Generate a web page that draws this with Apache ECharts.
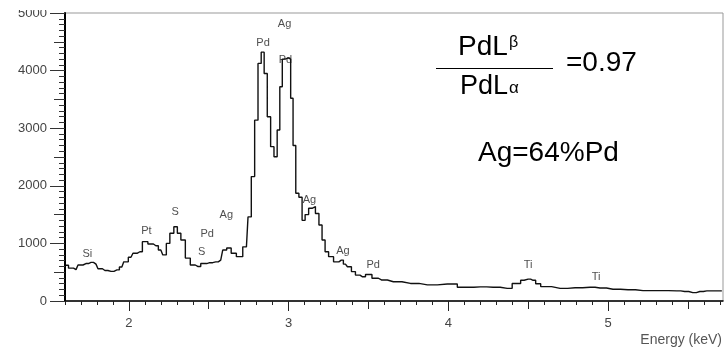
<!DOCTYPE html>
<html>
<head>
<meta charset="utf-8">
<script src="https://cdn.jsdelivr.net/npm/echarts@6/dist/echarts.min.js"></script>
<style>
html, body { margin: 0; padding: 0; background: #fff; }
#chart { width: 724px; height: 351px; }
</style>
</head>
<body>
<div id="chart"></div>
<script>
// spectrum (keV, counts)
const energy = [
  1.606, 1.638, 1.669, 1.694, 1.731, 1.763, 1.794, 1.819, 1.85, 1.888,
  1.925, 1.956, 1.98, 2.013, 2.038, 2.069, 2.1, 2.138, 2.169, 2.2,
  2.225, 2.244, 2.269, 2.294, 2.313, 2.338, 2.369, 2.4, 2.431, 2.469,
  2.506, 2.544, 2.575, 2.6, 2.625, 2.656, 2.69, 2.736, 2.756, 2.777,
  2.798, 2.819, 2.838, 2.856, 2.877, 2.898, 2.919, 2.938, 2.952, 2.969,
  2.988, 3.006, 3.02, 3.036, 3.054, 3.075, 3.094, 3.113, 3.138, 3.156,
  3.18, 3.2, 3.219, 3.238, 3.263, 3.3, 3.33, 3.356, 3.381, 3.406,
  3.431, 3.463, 3.5, 3.544, 3.581, 3.656, 3.763, 3.869, 3.994, 4.119,
  4.2, 4.281, 4.369, 4.431, 4.475, 4.5, 4.531, 4.563, 4.594, 4.7,
  4.794, 4.888, 4.95, 5.031, 5.125, 5.219, 5.325, 5.431, 5.48, 5.531,
  5.575, 5.619, 5.713
];
const counts = [
  620, 570, 545, 625, 650, 670, 640, 560, 530, 515,
  540, 590, 680, 760, 830, 855, 1030, 990, 960, 885,
  800, 1000, 1175, 1290, 1175, 1060, 745, 625, 600, 650,
  665, 680, 710, 885, 920, 830, 770, 940, 1460, 2160,
  3140, 4125, 4320, 3950, 3200, 2680, 2505, 2970, 3720, 4200,
  4220, 4200, 3520, 2700, 1870, 1800, 1400, 1500, 1610, 1640,
  1520, 1320, 1060, 855, 770, 680, 710, 640, 595, 510,
  450, 420, 460, 395, 365, 335, 305, 280, 295, 238,
  245, 238, 220, 305, 360, 380, 360, 300, 250, 220,
  230, 238, 225, 203, 195, 180, 180, 175, 165, 145,
  165, 175, 175
];

// peak annotations
const peakNames  = ['Si', 'Pt', 'S', 'Pd', 'S', 'Ag', 'Pd', 'Ag', 'Pd', 'Ag', 'Ag', 'Pd', 'Ti', 'Ti'];
const peakEnergy = [1.74, 2.11, 2.29, 2.49, 2.456, 2.61, 2.84, 2.975, 2.98, 3.13, 3.34, 3.53, 4.5, 4.925];
const peakHeight = [816, 1215, 1545, 1163, 850, 1493, 4480, 4810, 4184, 1753, 868, 625, 625, 417];

// axes
const X_MIN = 1.6, X_MAX = 5.72;
const xLabels = [2, 3, 4, 5];
const xMinorTicks = [];
for (let k = 16; k <= 57; k++) xMinorTicks.push(k / 10);
const xHalfTicks = [2, 2.5, 3, 3.5, 4, 4.5, 5, 5.5];

const font = 'Liberation Sans, Arial, sans-serif';

function xAxisLayer(ticks, len, labels) {
  return {
    type: 'value', min: X_MIN, max: X_MAX, position: 'bottom',
    axisLine: { show: !!labels, onZero: false, lineStyle: { color: '#000', width: 1.5 } },
    axisTick: { show: true, customValues: ticks, length: len, lineStyle: { color: '#222' } },
    axisLabel: labels ? {
      customValues: labels, margin: 16, color: '#444', fontSize: 13, fontFamily: font
    } : { show: false },
    splitLine: { show: false }
  };
}

function yAxisLayer(interval, len, labels) {
  return {
    type: 'value', min: 0, max: 5000, interval: interval, position: 'left',
    axisLine: { show: labels, lineStyle: { color: '#000', width: 2 } },
    axisTick: { show: true, length: len, lineStyle: { color: '#333' } },
    axisLabel: labels ? {
      margin: 18, color: '#444', fontSize: 13, fontFamily: font, formatter: v => String(v)
    } : { show: false },
    splitLine: { show: false }
  };
}

function txt(x, y, s, size, extra) {
  return {
    type: 'text',
    style: Object.assign({ x: x, y: y, text: s, fontSize: size, fontFamily: font, fill: '#000', verticalAlign: 'middle' }, extra || {})
  };
}

const chart = echarts.init(document.getElementById('chart'));
chart.setOption({
  animation: false,
  grid: { left: 65, right: 1, top: 13, bottom: 50, show: true, borderColor: '#999', borderWidth: 1 },
  xAxis: [
    xAxisLayer(xLabels, 10, xLabels),
    xAxisLayer(xHalfTicks, 8, null),
    xAxisLayer(xMinorTicks, 4, null)
  ],
  yAxis: [
    yAxisLayer(1000, 15, true),
    yAxisLayer(500, 11, false),
    yAxisLayer(100, 6, false)
  ],
  series: [
    {
      type: 'line', step: 'middle', showSymbol: false,
      data: energy.map((e, i) => [e, counts[i]]),
      lineStyle: { color: '#111', width: 1.4 }
    },
    {
      type: 'scatter', symbolSize: 1,
      itemStyle: { color: 'transparent' },
      data: peakNames.map((n, i) => [peakEnergy[i], peakHeight[i], n]),
      label: {
        show: true, position: 'inside', formatter: p => p.data[2],
        color: '#222', fontSize: 11, fontFamily: font
      }
    }
  ],
  graphic: [
    { type: 'rect', shape: { x: 0, y: 0, width: 62, height: 10 }, style: { fill: '#fff' }, z: 100 },
    txt(458, 47, 'PdL', 28),
    txt(509, 43, 'β', 16),
    { type: 'line', shape: { x1: 436, y1: 68.5, x2: 553, y2: 68.5 }, style: { stroke: '#000', lineWidth: 1 } },
    txt(460, 86.5, 'PdL', 27),
    txt(509, 88.5, 'α', 17),
    txt(566, 63, '=0.97', 28),
    txt(478, 153.5, 'Ag=64%Pd', 28),
    txt(722, 340, 'Energy (keV)', 14, { fill: '#555', align: 'right' })
  ]
});
</script>
</body>
</html>
